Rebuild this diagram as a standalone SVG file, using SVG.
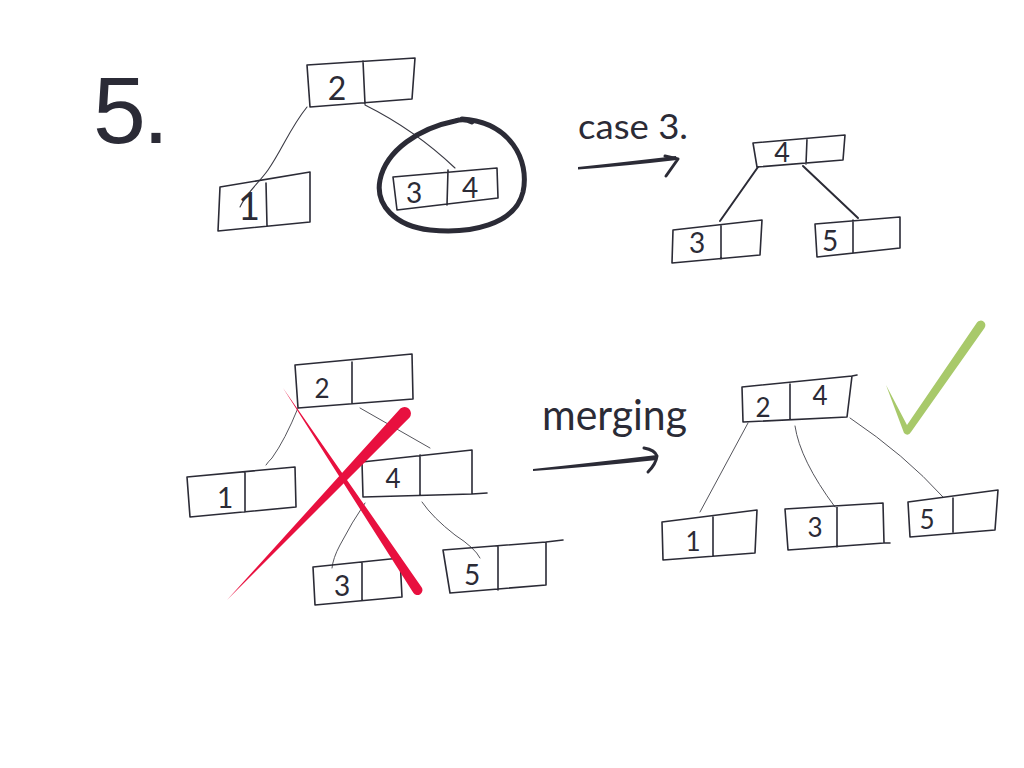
<svg xmlns="http://www.w3.org/2000/svg" width="1024" height="768" viewBox="0 0 1024 768">
<style>
.box{fill:none;stroke:#2b2b36;stroke-width:1.6;stroke-linejoin:round;stroke-linecap:round}
.dig{font-family:Lato,"Open Sans","Liberation Sans",sans-serif;font-weight:400;fill:#2b2b36;text-anchor:middle}
.hand{font-family:Lato,"Open Sans","Liberation Sans",sans-serif;font-weight:400;fill:#2b2b36}
.c1{fill:none;stroke:#3a3a44;stroke-width:1.1;stroke-linecap:round}
.c2{fill:none;stroke:#2b2b36;stroke-width:2;stroke-linecap:round}
.c3{fill:none;stroke:#55555c;stroke-width:1;stroke-linecap:round}
.ink{fill:#2b2b36}
.head{fill:none;stroke:#2b2b36;stroke-width:3;stroke-linecap:round;stroke-linejoin:round}
</style>
<rect width="1024" height="768" fill="#ffffff"/>

<text x="93" y="143" font-family="Liberation Sans, Arial, sans-serif" font-size="95" fill="#2b2b36" letter-spacing="-3">5.</text>

<!-- connectors -->
<g id="connectors">
  <path class="c1" d="M307,107 C290,128 282,150 268,170 C258,184 247,192 240,207"/>
  <path class="c1" d="M365,105 Q415,130 455,168"/>
  <path class="c2" d="M758,167 L720,221"/>
  <path class="c2" d="M803,166 L858,218"/>
  <path class="c3" d="M298,408 Q285,440 272,458 Q268,462 266,465"/>
  <path class="c3" d="M360,408 L430,448"/>
  <path class="c3" d="M365,503 Q352,522 340,545 Q333,558 332,568"/>
  <path class="c3" d="M422,502 Q433,518 455,535 Q475,548 480,558"/>
  <path class="c3" d="M748,423 L700,512"/>
  <path class="c3" d="M795,426 Q800,460 835,507"/>
  <path class="c3" d="M850,418 Q905,455 943,497"/>
  <!-- case 3 arrow -->
  <path class="ink" d="M578,167 Q625,162 676,156 L677,160 Q625,166 578,169.5 Z"/>
  <polyline class="head" points="665,156 678,159 666,176"/>
  <!-- merging arrow -->
  <path class="ink" d="M533,469 Q590,463 657,455 L657,460 Q590,467 533,471 Z"/>
  <path class="head" d="M644,448 Q655,450 657,456 Q656,464 648,472"/>
</g>

<!-- labels -->
<text id="label-case3" class="hand" x="578" y="139" font-size="34" textLength="110" lengthAdjust="spacingAndGlyphs">case 3.</text>
<text id="label-merging" class="hand" x="542" y="430" font-size="42" textLength="145" lengthAdjust="spacingAndGlyphs">merging</text>

<!-- tree 1 -->
<g id="t1-root">
  <path class="box" d="M307,65 L415,58 L412,99 L310,107 Z M363,61 L365,104"/>
  <text class="dig" x="337" y="100" font-size="32">2</text>
</g>
<g id="t1-n1">
  <path class="box" d="M220,187 L310,172 L310,222 L218,231 Z M266,183 L267,226"/>
  <text class="dig" x="249" y="220" font-size="38">1</text>
</g>
<g id="t1-n34">
  <path class="box" d="M393,177 L497,168 L498,198 L397,210 Z M448,170 L447,205"/>
  <text class="dig" x="414" y="203" font-size="28">3</text>
  <text class="dig" x="470" y="198" font-size="28">4</text>
</g>
<path id="circle" d="M462,119 C510,122 530,160 523,192 C515,225 470,234 430,230 C395,226 375,205 380,180 C386,150 420,128 455,121 C462,119 468,120 472,122" fill="none" stroke="#2b2b36" stroke-width="5" stroke-linecap="round"/>

<!-- tree 2 -->
<g id="t2-root">
  <path class="box" d="M753,143 L845,135 L843,160 L757,167 Z M807,139 L806,164"/>
  <text class="dig" x="782" y="162" font-size="27">4</text>
</g>
<g id="t2-n3">
  <path class="box" d="M673,230 L762,220 L760,255 L672,263 Z M721,225 L721,259"/>
  <text class="dig" x="697" y="253" font-size="28">3</text>
</g>
<g id="t2-n5">
  <path class="box" d="M815,224 L900,217 L900,248 L817,257 Z M853,220 L853,253"/>
  <text class="dig" x="830" y="251" font-size="28">5</text>
</g>

<!-- tree 3 (crossed out) -->
<g id="t3-root">
  <path class="box" d="M295,365 L412,354 L413,399 L298,408 Z M352,362 L352,403"/>
  <text class="dig" x="322" y="398" font-size="26">2</text>
</g>
<g id="t3-n1">
  <path class="box" d="M187,477 L295,467 L296,507 L190,517 Z M245,473 L245,512"/>
  <text class="dig" x="225" y="508" font-size="28">1</text>
</g>
<g id="t3-n4">
  <path class="box" d="M362,462 L472,450 L472,494 L363,497 Z M472,494 L487,493 M420,455 L420,495"/>
  <text class="dig" x="393" y="488" font-size="26">4</text>
</g>
<g id="t3-n3">
  <path class="box" d="M313,567 L400,558 L402,597 L315,605 Z M362,562 L362,600"/>
  <text class="dig" x="342" y="596" font-size="28">3</text>
</g>
<g id="t3-n5">
  <path class="box" d="M443,550 L546,542 L546,585 L450,593 Z M546,542 L563,540 M498,546 L498,590"/>
  <text class="dig" x="472" y="585" font-size="28">5</text>
</g>

<!-- red X -->
<g id="cross" fill="#e8103f">
  <path d="M283,388 L421.6,587.2 A5,5 0 0 1 413.3,592.8 Z"/>
  <path d="M400.4,408.6 A6.4,6.4 0 0 1 409.6,417.4 L227,600 Z"/>
</g>

<!-- tree 4 (merged) -->
<g id="t4-root">
  <path class="box" d="M742,387 L852,376 L847,417 L743,422 Z M852,376 L857,375 M790,384 L790,420"/>
  <text class="dig" x="763" y="417" font-size="26">2</text>
  <text class="dig" x="820" y="405" font-size="26">4</text>
</g>
<g id="t4-n1">
  <path class="box" d="M662,522 L757,510 L755,553 L663,560 Z M713,517 L713,556"/>
  <text class="dig" x="693" y="551" font-size="26">1</text>
</g>
<g id="t4-n3">
  <path class="box" d="M785,509 L883,503 L884,543 L788,550 Z M884,543 L890,543 M837,506 L837,547"/>
  <text class="dig" x="815" y="537" font-size="26">3</text>
</g>
<g id="t4-n5">
  <path class="box" d="M908,502 L998,490 L995,530 L910,537 Z M953,498 L953,532"/>
  <text class="dig" x="927" y="529" font-size="26">5</text>
</g>

<!-- green check -->
<path id="check" fill="#a8c96a" d="M886,385 L904,433 Q908,437 911,432 L984.5,328 A4.5,4.5 0 0 0 977,322.5 L907,425 Z"/>
</svg>
